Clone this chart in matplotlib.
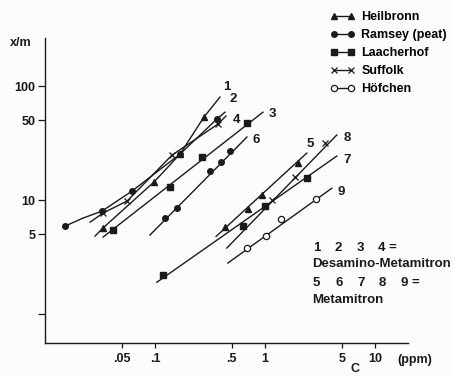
import matplotlib
matplotlib.use("Agg")
import matplotlib.pyplot as plt
from matplotlib.lines import Line2D

plt.rcParams['font.family'] = ['Liberation Sans', 'DejaVu Sans']
plt.rcParams['font.weight'] = 'bold'
plt.rcParams['font.size'] = 9

# curve number -> soil, marker points (C in ppm, x/m) and the drawn line
soils = ['Heilbronn', 'Ramsey (peat)', 'Laacherhof', 'Suffolk', 'Höfchen']

# Desamino-Metamitron
c1 = [0.0338, 0.098, 0.169, 0.279]
y1 = [5.7, 14.4, 25.3, 53.5]
line1_c = [0.0285, 0.0338, 0.098, 0.169, 0.279, 0.39]
line1_y = [4.83, 5.7, 14.4, 25.3, 53.5, 80]

c2 = [0.0152, 0.033, 0.0619, 0.169, 0.366]
y2 = [5.9, 8.0, 12.0, 25.3, 51.4]
line2_c = [0.0152, 0.0222, 0.033, 0.0619, 0.169, 0.366, 0.433]
line2_y = [5.9, 6.95, 8.0, 12.0, 25.3, 51.4, 59]

c3 = [0.0417, 0.137, 0.267, 0.686]
y3 = [5.46, 13.0, 23.8, 47.3]
line3_c = [0.0338, 0.96]
line3_y = [4.74, 59]

c4 = [0.0338, 0.0558, 0.143, 0.374]
y4 = [7.7, 9.8, 24.8, 46.4]
line4_c = [0.0257, 0.0338, 0.0558, 0.143, 0.374, 0.442]
line4_y = [6.4, 7.7, 9.8, 24.8, 46.4, 54.6]

# Metamitron
c5 = [0.43, 0.70, 0.94, 2.0]
y5 = [5.8, 8.3, 11.1, 21.1]
line5_c = [0.36, 2.4]
line5_y = [4.8, 25.8]

c6 = [0.123, 0.158, 0.316, 0.398, 0.48]
y6 = [6.95, 8.5, 17.9, 21.5, 26.9]
line6_c = [0.090, 0.686]
line6_y = [4.93, 35.7]

c7 = [0.118, 0.63, 1.0, 2.41]
y7 = [2.2, 5.9, 8.9, 15.6]
line7_c = [0.104, 4.5]
line7_y = [1.9, 24.3]

c8 = [1.16, 1.87, 3.51]
y8 = [10.0, 15.9, 31.6]
line8_c = [0.45, 4.5]
line8_y = [3.79, 37.2]

c9 = [0.686, 1.02, 1.40, 2.91]
y9 = [3.79, 4.83, 6.8, 10.2]
line9_c = [0.46, 4.06]
line9_y = [2.8, 12.7]

xticks = [0.05, 0.1, 0.5, 1, 5, 10]
xtick_labels = ['.05', '.1', '.5', '1', '5', '10']
yticks = [1, 5, 10, 50, 100]
ytick_labels = ['', '5', '10', '50', '100']

desamino_nums = ['1', '2', '3', '4 =']
metamitron_nums = ['5', '6', '7', '8', '9 =']

ink = '#1a1a1a'
styles = {
    'Heilbronn': dict(marker='^', mfc=ink, ms=4.5),
    'Ramsey (peat)': dict(marker='o', mfc=ink, ms=4),
    'Laacherhof': dict(marker='s', mfc=ink, ms=4),
    'Suffolk': dict(marker='x', mfc=ink, ms=4, mew=0.9),
    'Höfchen': dict(marker='o', mfc='white', ms=4.5, mew=0.9),
}

curves = [
    (1, 'Heilbronn', c1, y1, line1_c, line1_y, (2, 3)),
    (2, 'Ramsey (peat)', c2, y2, line2_c, line2_y, (3, 5)),
    (3, 'Laacherhof', c3, y3, line3_c, line3_y, (4, -1)),
    (4, 'Suffolk', c4, y4, line4_c, line4_y, (5, -3)),
    (5, 'Heilbronn', c5, y5, line5_c, line5_y, (0, 2)),
    (6, 'Ramsey (peat)', c6, y6, line6_c, line6_y, (4, -2)),
    (7, 'Laacherhof', c7, y7, line7_c, line7_y, (5, -3)),
    (8, 'Suffolk', c8, y8, line8_c, line8_y, (5, -2)),
    (9, 'Höfchen', c9, y9, line9_c, line9_y, (4, -3)),
]

fig = plt.figure(figsize=(4.53, 3.76), dpi=100)
fig.patch.set_facecolor('#fcfcfa')
ax = fig.add_axes([45/453, 33/376, 363/453, 305/376])
ax.set_facecolor('#fcfcfa')
ax.set_xscale('log')
ax.set_yscale('log')

for num, soil, cc, yy, lc, ly, off in curves:
    ax.plot(lc, ly, color=ink, lw=1.0, zorder=2)
    ax.plot(cc, yy, ls='none', color=ink, mec=ink, zorder=3, **styles[soil])
    ax.annotate(str(num), xy=(lc[-1], ly[-1]), xytext=off, textcoords='offset points',
                ha='left', va='bottom' if off[1] > 0 else 'center', color=ink,
                fontsize=9.5)

ax.set_xlim(0.01, 20)
ax.set_ylim(0.557, 264)
ax.set_xticks(xticks)
ax.set_xticklabels(xtick_labels)
ax.set_yticks(yticks)
ax.set_yticklabels(ytick_labels)
ax.minorticks_off()
ax.tick_params(axis='both', colors=ink, width=0.9, labelsize=9)
ax.tick_params(axis='y', length=5, pad=2)
ax.tick_params(axis='x', length=3.5, pad=4)
for s in ['top', 'right']:
    ax.spines[s].set_visible(False)
for s in ['left', 'bottom']:
    ax.spines[s].set_color(ink)
    ax.spines[s].set_linewidth(1.0)

fig.text(10/453, 1 - 43/376, 'x/m', ha='left', va='center', color=ink)
fig.text(415/453, 1 - 360/376, '(ppm)', ha='center', va='center', color=ink)
fig.text(355/453, 1 - 375/376, 'C', ha='center', va='bottom', color=ink)

for i, t in enumerate(desamino_nums):
    fig.text((313 + 21.7 * i)/453, 1 - 248/376, t, ha='left', va='center', color=ink,
             fontsize=9.5)
fig.text(312/453, 1 - 264/376, 'Desamino-Metamitron', ha='left', va='center', color=ink,
         fontsize=9.5)
for i, t in enumerate(metamitron_nums):
    fig.text((313 + 22 * i)/453, 1 - 283/376, t, ha='left', va='center', color=ink,
             fontsize=9.5)
fig.text(312/453, 1 - 300/376, 'Metamitron', ha='left', va='center', color=ink,
         fontsize=9.5)

handles = [Line2D([], [], color=ink, lw=1.0, mec=ink, **styles[s]) for s in soils]
ax.legend(handles, soils, loc='upper left', bbox_to_anchor=(330/453, 1 - 11/376),
          bbox_transform=fig.transFigure, frameon=False, numpoints=2,
          handlelength=2.0, handletextpad=0.5, labelspacing=0.48,
          borderpad=0, borderaxespad=0, fontsize=9)

fig.savefig('out.png', dpi=100, facecolor=fig.get_facecolor())
